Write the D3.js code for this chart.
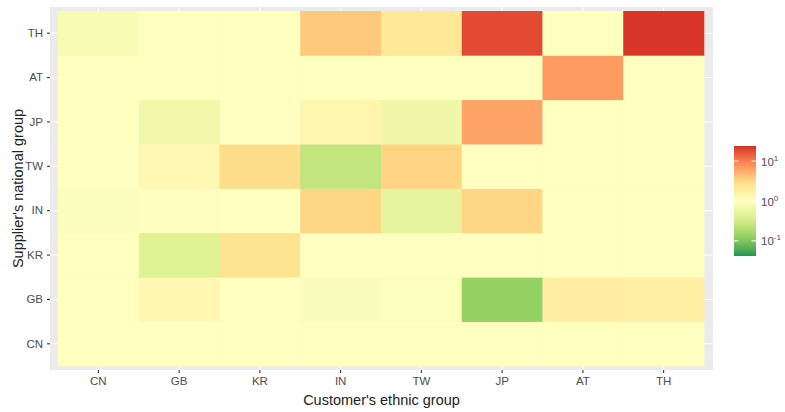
<!DOCTYPE html>
<html>
<head>
<meta charset="utf-8">
<script src="https://cdn.jsdelivr.net/npm/d3@7"></script>
<style>
  body { margin: 0; background: #fff; }
  text { font-family: "Liberation Sans", Arial, sans-serif; }
</style>
</head>
<body>
<svg id="chart" width="785" height="412"></svg>
<script>
// Customer groups along x, supplier groups along y (bottom to top)
const customers = ["CN", "GB", "KR", "IN", "TW", "JP", "AT", "TH"];
const suppliers = ["CN", "GB", "KR", "IN", "TW", "JP", "AT", "TH"];

// Ratio per supplier row, one value for each customer column (CN..TH)
const rowCN = [1.00, 1.00, 1.00, 1.00, 1.00, 1.00, 1.00, 1.00];
const rowGB = [1.00, 1.30, 1.00, 0.88, 0.92, 0.13, 1.80, 1.65];
const rowKR = [1.00, 0.42, 2.60, 1.00, 1.00, 1.00, 1.00, 1.00];
const rowIN = [0.90, 0.98, 1.00, 3.30, 0.50, 3.30, 1.00, 1.00];
const rowTW = [1.00, 1.26, 3.00, 0.25, 3.40, 1.00, 1.00, 1.00];
const rowJP = [1.00, 0.66, 1.00, 1.40, 0.63, 6.30, 1.00, 1.00];
const rowAT = [1.00, 1.00, 1.00, 1.00, 1.00, 1.00, 7.00, 1.00];
const rowTH = [0.80, 1.00, 1.00, 3.90, 2.20, 18.6, 1.00, 23.0];

const rows = [rowCN, rowGB, rowKR, rowIN, rowTW, rowJP, rowAT, rowTH];
const legendTicks = [-1, 0, 1];

// RdYlGn (7 classes), green for low ratios, red for high
const palette = ["#1a9850", "#91cf60", "#d9ef8b", "#ffffbf", "#fee08b", "#fc8d59", "#d73027"];
const logMin = -1.38, logMax = 1.38;

const cells = [];
rows.forEach((vals, i) => vals.forEach((v, j) => {
  cells.push({ supplier: suppliers[i], customer: customers[j], value: v });
}));

const svg = d3.select("#chart");

const panel = { left: 50, right: 713, top: 7, bottom: 370 };

const x = d3.scaleBand().domain(customers)
  .range([58, 704]).paddingInner(0).paddingOuter(0);
const y = d3.scaleBand().domain(suppliers)
  .range([366, 11]).paddingInner(0).paddingOuter(0);

const logPos = d3.scaleLinear().domain([logMin, logMax]).range([0, 1]).clamp(true);
const ramp = d3.scaleLinear()
  .domain(palette.map((_, i) => i / (palette.length - 1)))
  .range(palette)
  .interpolate(d3.interpolateLab);
const color = v => ramp(logPos(Math.log10(v)));

// Panel background and grid
svg.append("rect")
  .attr("x", panel.left).attr("y", panel.top)
  .attr("width", panel.right - panel.left).attr("height", panel.bottom - panel.top)
  .attr("fill", "#ebebeb");

const grid = svg.append("g");
customers.forEach(c => {
  const cx = x(c) + x.bandwidth() / 2;
  grid.append("line").attr("x1", cx).attr("x2", cx)
    .attr("y1", panel.top).attr("y2", panel.bottom)
    .attr("stroke", "#fff").attr("stroke-width", 1.1);
});
suppliers.forEach(s => {
  const cy = y(s) + y.bandwidth() / 2;
  grid.append("line").attr("x1", panel.left).attr("x2", panel.right)
    .attr("y1", cy).attr("y2", cy)
    .attr("stroke", "#fff").attr("stroke-width", 1.1);
});

// Tiles
svg.append("g").selectAll("rect").data(cells).join("rect")
  .attr("x", d => x(d.customer))
  .attr("y", d => y(d.supplier))
  .attr("width", x.bandwidth() + 0.3)
  .attr("height", y.bandwidth() + 0.3)
  .attr("fill", d => color(d.value));

// Axes
const xAxis = svg.append("g")
  .attr("transform", `translate(0,${panel.bottom})`)
  .call(d3.axisBottom(x).tickSize(3).tickPadding(4));
const yAxis = svg.append("g")
  .attr("transform", `translate(${panel.left},0)`)
  .call(d3.axisLeft(y).tickSize(3).tickPadding(4));
[xAxis, yAxis].forEach(a => {
  a.select(".domain").remove();
  a.selectAll(".tick line").attr("stroke", "#333").attr("stroke-width", 1.1);
  a.selectAll(".tick text").attr("fill", "#4d4d4d")
    .style("font-size", "11.5px")
    .style("font-family", "'Liberation Sans', Arial, sans-serif");
});

// Axis titles
svg.append("text")
  .attr("x", (panel.left + panel.right) / 2).attr("y", 405)
  .attr("text-anchor", "middle").attr("fill", "#222")
  .style("font-size", "14.5px")
  .text("Customer's ethnic group");
svg.append("text")
  .attr("transform", `translate(23,${(panel.top + panel.bottom) / 2}) rotate(-90)`)
  .attr("text-anchor", "middle").attr("fill", "#222")
  .style("font-size", "14.5px")
  .text("Supplier's national group");

// Colour bar legend
const bar = { x: 734, w: 22, top: 146, bottom: 256 };
const legY = d3.scaleLinear().domain([logMin, logMax]).range([bar.bottom, bar.top]);

const defs = svg.append("defs");
const grad = defs.append("linearGradient").attr("id", "fillGrad")
  .attr("x1", 0).attr("y1", 1).attr("x2", 0).attr("y2", 0);
d3.range(0, 1.0001, 0.05).forEach(t => {
  grad.append("stop").attr("offset", t).attr("stop-color", ramp(t));
});
svg.append("rect")
  .attr("x", bar.x).attr("y", bar.top)
  .attr("width", bar.w).attr("height", bar.bottom - bar.top)
  .attr("fill", "url(#fillGrad)");

const leg = svg.append("g");
legendTicks.forEach(p => {
  const ty = legY(p);
  leg.append("line").attr("x1", bar.x).attr("x2", bar.x + 4.5)
    .attr("y1", ty).attr("y2", ty).attr("stroke", "#fff").attr("stroke-width", 1);
  leg.append("line").attr("x1", bar.x + bar.w - 4.5).attr("x2", bar.x + bar.w)
    .attr("y1", ty).attr("y2", ty).attr("stroke", "#fff").attr("stroke-width", 1);
  const t = leg.append("text")
    .attr("x", bar.x + bar.w + 5).attr("y", ty + 4.5)
    .attr("fill", "#4d4d4d").style("font-size", "11.5px");
  t.append("tspan").text("10");
  t.append("tspan").attr("dy", -5).style("font-size", "8px").text(String(p));
});
</script>
</body>
</html>
